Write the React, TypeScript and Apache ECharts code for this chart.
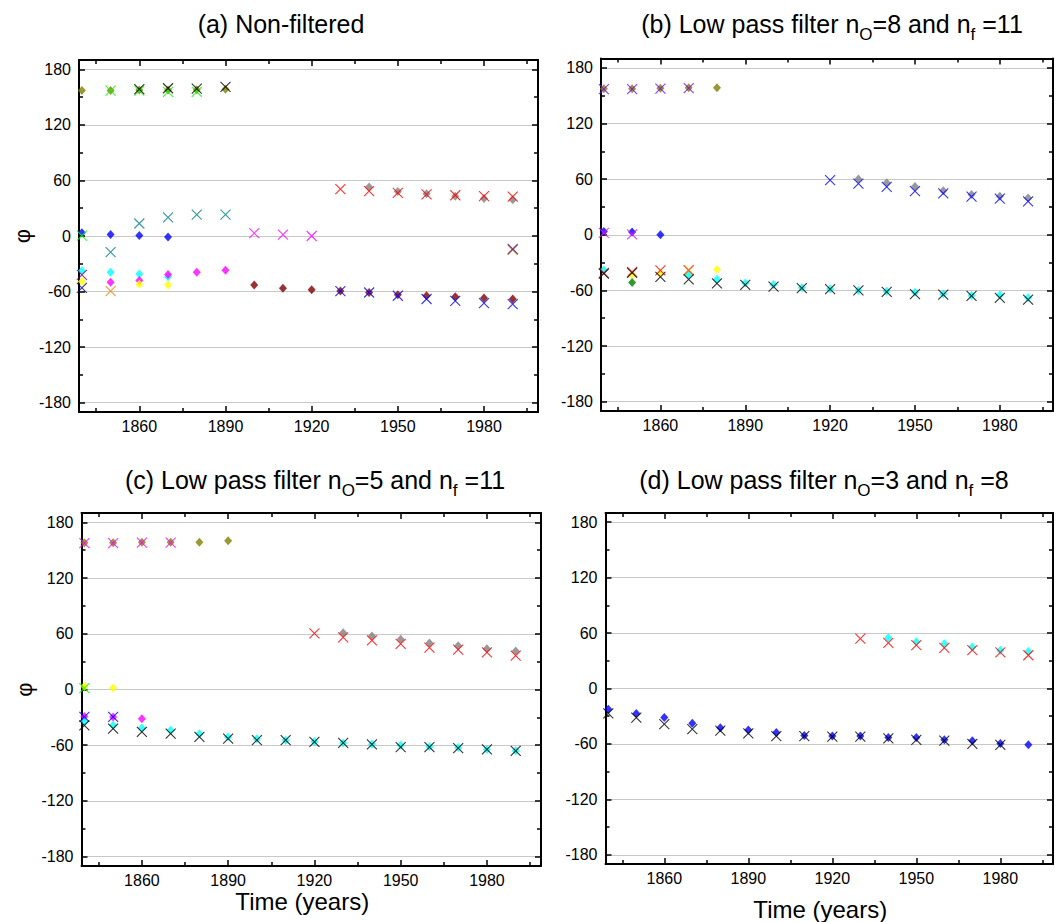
import React, { useEffect, useRef } from 'react';
import * as echarts from 'echarts';

type Pt = [number, number];
type Marker = 'diamond' | 'cross';
interface SeriesSpec { data: Pt[]; marker: Marker; color: string; }

// ---------- (a) Non-filtered phases, degrees ----------
const aOliveDiamond: Pt[] = [[1840, 157], [1850, 157], [1860, 157.5], [1870, 157.5], [1880, 158], [1890, 158.5]];
const aGreenCross: Pt[] = [[1840, 0.5], [1850, 157], [1860, 157], [1870, 155.5], [1880, 155.5]];
const aBlackCross: Pt[] = [[1860, 158.5], [1870, 159.5], [1880, 159], [1890, 161]];
const aBlueDiamond: Pt[] = [[1840, 3.5], [1850, 1.5], [1860, 0.5], [1870, -1]];
const aTealCross: Pt[] = [[1850, -17.5], [1860, 13.5], [1870, 20], [1880, 23], [1890, 23]];
const aMagentaCross: Pt[] = [[1900, 3], [1910, 1.5], [1920, 0]];
const aRedCross: Pt[] = [[1930, 50.5], [1940, 48.5], [1950, 46.5], [1960, 45], [1970, 44], [1980, 43], [1990, 42.5]];
const aGrayDiamond: Pt[] = [[1940, 53], [1950, 48], [1960, 45.5], [1970, 43], [1980, 40.5], [1990, 39]];
const aOliveCross: Pt[] = [[1990, -15]];
const aPurpleCross: Pt[] = [[1840, -42], [1990, -14]];
const aCyanDiamond: Pt[] = [[1840, -37.5], [1850, -39], [1860, -41], [1870, -44]];
const aMagentaDiamond: Pt[] = [[1850, -50], [1860, -48], [1870, -41.5], [1880, -39], [1890, -37]];
const aYellowDiamond: Pt[] = [[1840, -49], [1860, -52], [1870, -53]];
const aNavyCross: Pt[] = [[1840, -56]];
const aOrangeCross: Pt[] = [[1850, -59.5]];
const aWineDiamond: Pt[] = [[1900, -53], [1910, -56.5], [1920, -58], [1930, -59.5], [1940, -61], [1950, -63.5], [1960, -64.5], [1970, -65.5], [1980, -67], [1990, -68]];
const aBlueCross: Pt[] = [[1930, -59.5], [1940, -61], [1950, -64.5], [1960, -68], [1970, -70], [1980, -72.5], [1990, -73.5]];

// ---------- (b) Low pass filter nO=8, nf=11 ----------
const bOliveDiamond: Pt[] = [[1840, 157.5], [1850, 157.5], [1860, 158], [1870, 158.5], [1880, 158.5]];
const bVioletCross: Pt[] = [[1840, 157], [1850, 157], [1860, 157.5], [1870, 158]];
const bBlueDiamond: Pt[] = [[1840, 3.5], [1850, 3], [1860, 0]];
const bMagentaCross: Pt[] = [[1840, 2], [1850, 0.5]];
const bYellowDiamond: Pt[] = [[1850, -43], [1860, -41.5], [1880, -37.5]];
const bCyanDiamond: Pt[] = [[1840, -38], [1870, -43], [1880, -48], [1890, -52], [1900, -53.5], [1910, -57], [1920, -58.5], [1930, -60], [1940, -61], [1950, -62], [1960, -64], [1970, -65.5], [1980, -65], [1990, -68]];
const bDarkGreenDiamond: Pt[] = [[1850, -51.5]];
const bRedCross: Pt[] = [[1840, -41], [1850, -40], [1860, -38.5], [1870, -38.5]];
const bOrangeCross: Pt[] = [[1870, -38]];
const bBlackCross: Pt[] = [[1840, -42], [1850, -41], [1860, -45.5], [1870, -48], [1880, -52.5], [1890, -54], [1900, -56], [1910, -57.5], [1920, -58.5], [1930, -60], [1940, -61.5], [1950, -64], [1960, -64.5], [1970, -66], [1980, -68], [1990, -70]];
const bBlueCross: Pt[] = [[1920, 59], [1930, 55], [1940, 51.5], [1950, 47], [1960, 44.5], [1970, 41], [1980, 39], [1990, 36]];
const bGrayDiamond: Pt[] = [[1930, 60], [1940, 56], [1950, 52], [1960, 47.5], [1970, 43.5], [1980, 41.5], [1990, 39.5]];

// ---------- (c) Low pass filter nO=5, nf=11 ----------
const cOliveDiamond: Pt[] = [[1840, 158], [1850, 158], [1860, 158.5], [1870, 158.5], [1880, 158.5], [1890, 160]];
const cMagentaCross: Pt[] = [[1840, 157.5], [1850, 157.5], [1860, 158], [1870, 158]];
const cYellowDiamond: Pt[] = [[1840, 3.5], [1850, 1.5]];
const cGreenCross: Pt[] = [[1840, 1.5]];
const cMagentaDiamond: Pt[] = [[1840, -29], [1850, -29.5], [1860, -31.5]];
const cBlueCross: Pt[] = [[1840, -29.5], [1850, -29.5]];
const cCyanDiamond: Pt[] = [[1840, -34.5], [1850, -38.5], [1860, -41.5], [1870, -44], [1880, -47.5], [1890, -51], [1900, -53], [1910, -54.5], [1920, -56], [1930, -57.5], [1940, -59], [1950, -60], [1960, -61.5], [1970, -62.5], [1980, -64.5], [1990, -66]];
const cBlackCross: Pt[] = [[1840, -38.5], [1850, -42], [1860, -45.5], [1870, -47.5], [1880, -51], [1890, -53], [1900, -54.5], [1910, -54.5], [1920, -56.5], [1930, -57.5], [1940, -59], [1950, -62], [1960, -62], [1970, -63], [1980, -64.5], [1990, -66]];
const cRedCross: Pt[] = [[1920, 60.5], [1930, 56], [1940, 53], [1950, 49], [1960, 45], [1970, 43], [1980, 40], [1990, 36.5]];
const cGrayDiamond: Pt[] = [[1930, 61], [1940, 57.5], [1950, 54], [1960, 50], [1970, 47], [1980, 44], [1990, 41.5]];

// ---------- (d) Low pass filter nO=3, nf=8 ----------
const dBlueDiamond: Pt[] = [[1840, -22.5], [1850, -27], [1860, -31.5], [1870, -37.5], [1880, -42.5], [1890, -45], [1900, -47.5], [1910, -51], [1920, -51.5], [1930, -51.5], [1940, -53], [1950, -53], [1960, -55.5], [1970, -56.5], [1980, -59.5], [1990, -61]];
const dBlackCross: Pt[] = [[1840, -27], [1850, -31.5], [1860, -38.5], [1870, -44], [1880, -45.5], [1890, -48.5], [1900, -51.5], [1910, -51.5], [1920, -52], [1930, -52], [1940, -54], [1950, -55.5], [1960, -56.5], [1970, -60], [1980, -61]];
const dRedCross: Pt[] = [[1930, 54], [1940, 49.5], [1950, 47], [1960, 44], [1970, 41.5], [1980, 39], [1990, 36]];
const dCyanDiamond: Pt[] = [[1940, 55], [1950, 50.5], [1960, 48.5], [1970, 45], [1980, 41.5], [1990, 40]];

// Axis ranges and tick steps
const X_MIN = 1839;
const X_MAX = 1998.8;
const X_STEP = 30;
const Y_MIN = -190;
const Y_MAX = 190;
const Y_STEP = 60;

const OLIVE = '#808000', GREEN = '#00ff00', BLACK = '#000000', BLUE = '#0000ff', TEAL = '#008080';
const MAGENTA = '#ff00ff', RED = '#ff0000', GRAY = '#808080', PURPLE = '#800080', CYAN = '#00ffff';
const YELLOW = '#ffff00', NAVY = '#000080', ORANGE = '#ff8000', WINE = '#800000', VIOLET = '#8000ff', DKGREEN = '#008000';

const panels: SeriesSpec[][] = [
  [
    { data: aOliveDiamond, marker: 'diamond', color: OLIVE },
    { data: aBlueDiamond, marker: 'diamond', color: BLUE },
    { data: aGrayDiamond, marker: 'diamond', color: GRAY },
    { data: aCyanDiamond, marker: 'diamond', color: CYAN },
    { data: aMagentaDiamond, marker: 'diamond', color: MAGENTA },
    { data: aYellowDiamond, marker: 'diamond', color: YELLOW },
    { data: aWineDiamond, marker: 'diamond', color: WINE },
    { data: aGreenCross, marker: 'cross', color: GREEN },
    { data: aBlackCross, marker: 'cross', color: BLACK },
    { data: aTealCross, marker: 'cross', color: TEAL },
    { data: aMagentaCross, marker: 'cross', color: MAGENTA },
    { data: aRedCross, marker: 'cross', color: RED },
    { data: aOliveCross, marker: 'cross', color: OLIVE },
    { data: aPurpleCross, marker: 'cross', color: PURPLE },
    { data: aNavyCross, marker: 'cross', color: NAVY },
    { data: aOrangeCross, marker: 'cross', color: ORANGE },
    { data: aBlueCross, marker: 'cross', color: BLUE },
  ],
  [
    { data: bOliveDiamond, marker: 'diamond', color: OLIVE },
    { data: bBlueDiamond, marker: 'diamond', color: BLUE },
    { data: bYellowDiamond, marker: 'diamond', color: YELLOW },
    { data: bCyanDiamond, marker: 'diamond', color: CYAN },
    { data: bDarkGreenDiamond, marker: 'diamond', color: DKGREEN },
    { data: bGrayDiamond, marker: 'diamond', color: GRAY },
    { data: bVioletCross, marker: 'cross', color: VIOLET },
    { data: bMagentaCross, marker: 'cross', color: MAGENTA },
    { data: bRedCross, marker: 'cross', color: RED },
    { data: bOrangeCross, marker: 'cross', color: ORANGE },
    { data: bBlackCross, marker: 'cross', color: BLACK },
    { data: bBlueCross, marker: 'cross', color: BLUE },
  ],
  [
    { data: cOliveDiamond, marker: 'diamond', color: OLIVE },
    { data: cYellowDiamond, marker: 'diamond', color: YELLOW },
    { data: cMagentaDiamond, marker: 'diamond', color: MAGENTA },
    { data: cCyanDiamond, marker: 'diamond', color: CYAN },
    { data: cGrayDiamond, marker: 'diamond', color: GRAY },
    { data: cMagentaCross, marker: 'cross', color: MAGENTA },
    { data: cGreenCross, marker: 'cross', color: GREEN },
    { data: cBlueCross, marker: 'cross', color: BLUE },
    { data: cBlackCross, marker: 'cross', color: BLACK },
    { data: cRedCross, marker: 'cross', color: RED },
  ],
  [
    { data: dBlueDiamond, marker: 'diamond', color: BLUE },
    { data: dCyanDiamond, marker: 'diamond', color: CYAN },
    { data: dBlackCross, marker: 'cross', color: BLACK },
    { data: dRedCross, marker: 'cross', color: RED },
  ],
];

const FONT = '"Liberation Sans", Arial, Helvetica, sans-serif';
const CROSS = 'path://M0,0L10,10M0,10L10,0';

// Plot rectangles of the four panels (px)
const grids = [
  { left: 79, top: 60, width: 459, height: 352 },
  { left: 601, top: 58.5, width: 459, height: 352.5 },
  { left: 81.5, top: 513, width: 459.5, height: 353 },
  { left: 605.5, top: 513, width: 459.5, height: 353 },
];

const frameLine = { show: true, onZero: false, lineStyle: { color: '#000', width: 2 } };
const tick = { show: true, inside: true, length: 6, lineStyle: { color: '#000', width: 1.5 } };
const minor = { show: true, splitNumber: 2, length: 4, lineStyle: { color: '#000', width: 1.5 } };
const labelStyle = { fontSize: 16, color: '#000', fontFamily: FONT };

function xAxesFor(i: number, name?: string, nameGap?: number) {
  const common = {
    gridIndex: i, type: 'value', min: X_MIN, max: X_MAX,
    minInterval: X_STEP, maxInterval: X_STEP,
    axisLine: frameLine, axisTick: tick, minorTick: minor,
    splitLine: { show: false }, minorSplitLine: { show: false },
  };
  return [
    {
      ...common, position: 'bottom',
      axisLabel: { ...labelStyle, margin: 6, formatter: (v: number) => (v % X_STEP === 0 ? String(v) : '') },
      name: name || '', nameLocation: 'middle', nameGap: nameGap || 0,
      nameTextStyle: { fontSize: 24, color: '#000', fontFamily: FONT, padding: [0, 18, 0, 0] },
    },
    { ...common, position: 'top', axisLabel: { show: false } },
  ];
}

function yAxesFor(i: number, name?: string) {
  const common = {
    gridIndex: i, type: 'value', min: Y_MIN, max: Y_MAX,
    minInterval: Y_STEP, maxInterval: Y_STEP,
    axisLine: frameLine, axisTick: tick, minorTick: minor,
    minorSplitLine: { show: false },
  };
  return [
    {
      ...common, position: 'left',
      splitLine: { show: true, lineStyle: { color: '#c8c8c8', width: 1 } },
      axisLabel: { ...labelStyle, margin: 8, formatter: (v: number) => (v % Y_STEP === 0 ? String(v) : '') },
      name: name || '', nameLocation: 'middle', nameGap: 46, nameRotate: 90,
      nameTextStyle: { fontSize: 22, color: '#000', fontFamily: FONT },
    },
    { ...common, position: 'right', splitLine: { show: false }, axisLabel: { show: false } },
  ];
}

function seriesFor(specs: SeriesSpec[], i: number) {
  return specs.map((s) => ({
    type: 'scatter',
    xAxisIndex: 2 * i,
    yAxisIndex: 2 * i,
    data: s.data,
    symbol: s.marker === 'diamond' ? 'diamond' : CROSS,
    symbolSize: s.marker === 'diamond' ? [8, 9] : 10,
    itemStyle: s.marker === 'diamond'
      ? { color: s.color }
      : { color: s.color, borderColor: s.color, borderWidth: 1.1 },
    z: s.marker === 'diamond' ? 2 : 3,
    silent: true,
  }));
}

// Panel heading; {s|..} pieces are subscripts
function titleText(x: number, y: number, text: string) {
  return {
    type: 'text', x, y, silent: true,
    style: {
      text,
      fontSize: 25, fontFamily: FONT, fill: '#000', lineHeight: 38,
      align: 'center', verticalAlign: 'middle',
      rich: {
        s: { fontSize: 17, fontFamily: FONT, fill: '#000', verticalAlign: 'bottom' },
      },
    },
  };
}

export default function App() {
  const ref = useRef<HTMLDivElement>(null);

  useEffect(() => {
    if (!ref.current) return;
    const chart = echarts.init(ref.current, undefined, { renderer: 'svg' });
    const xAxis = [
      ...xAxesFor(0), ...xAxesFor(1),
      ...xAxesFor(2, 'Time (years)', 23), ...xAxesFor(3, 'Time (years)', 33),
    ];
    const yAxis = [...yAxesFor(0, 'φ'), ...yAxesFor(1), ...yAxesFor(2, 'φ'), ...yAxesFor(3)];
    chart.setOption({
      animation: false,
      backgroundColor: '#ffffff',
      grid: grids.map((g) => ({ ...g, containLabel: false })),
      xAxis,
      yAxis,
      series: panels.flatMap((p, i) => seriesFor(p, i)),
      graphic: [
        titleText(281, 24, '(a) Non-filtered'),
        titleText(832, 24, '(b) Low pass filter n{s|O}=8 and n{s|f} =11'),
        titleText(315, 480, '(c) Low pass filter n{s|O}=5 and n{s|f} =11'),
        titleText(824, 480, '(d) Low pass filter n{s|O}=3 and n{s|f} =8'),
      ],
    });
    return () => chart.dispose();
  }, []);

  return (
    <div
      ref={ref}
      style={{ position: 'absolute', left: 0, top: 0, width: 1056, height: 922, background: '#fff' }}
    />
  );
}
